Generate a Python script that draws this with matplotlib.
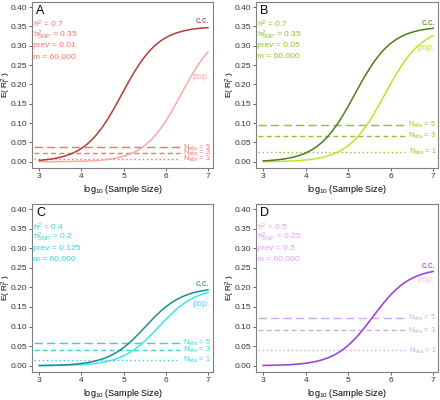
#!/usr/bin/env python3

import matplotlib
matplotlib.use("Agg")
from matplotlib import pyplot as plt

plt.rcParams["font.family"] = ["Liberation Sans", "DejaVu Sans"]
plt.rcParams["mathtext.fontset"] = "custom"
plt.rcParams["mathtext.rm"] = "Liberation Sans"
plt.rcParams["mathtext.it"] = "Liberation Sans"

# log10 sample size grid shared by all curves
log_n = [3.0, 3.125, 3.25, 3.375, 3.5, 3.625, 3.75, 3.875,
         4.0, 4.125, 4.25, 4.375, 4.5, 4.625, 4.75, 4.875,
         5.0, 5.125, 5.25, 5.375, 5.5, 5.625, 5.75, 5.875,
         6.0, 6.125, 6.25, 6.375, 6.5, 6.625, 6.75, 6.875, 7.0]

cc_a = [0.0038, 0.0050, 0.0067, 0.0089, 0.0117, 0.0155, 0.0203, 0.0266,
        0.0346, 0.0447, 0.0571, 0.0722, 0.0901, 0.1107, 0.1335, 0.1579,
        0.1830, 0.2078, 0.2314, 0.2528, 0.2716, 0.2878, 0.3012, 0.3121,
        0.3207, 0.3276, 0.3329, 0.3370, 0.3402, 0.3426, 0.3444, 0.3458, 0.3468]
pop_a = [0.0002, 0.0002, 0.0003, 0.0004, 0.0005, 0.0006, 0.0008, 0.0011,
         0.0015, 0.0020, 0.0026, 0.0035, 0.0047, 0.0062, 0.0083, 0.0109,
         0.0144, 0.0190, 0.0248, 0.0324, 0.0418, 0.0537, 0.0681, 0.0853,
         0.1051, 0.1275, 0.1515, 0.1766, 0.2016, 0.2255, 0.2475, 0.2671, 0.2838]

cc_b = [0.0024, 0.0032, 0.0043, 0.0057, 0.0075, 0.0100, 0.0132, 0.0174,
        0.0228, 0.0298, 0.0386, 0.0496, 0.0632, 0.0795, 0.0985, 0.1201,
        0.1437, 0.1686, 0.1937, 0.2180, 0.2407, 0.2611, 0.2788, 0.2938,
        0.3061, 0.3160, 0.3239, 0.3300, 0.3348, 0.3385, 0.3413, 0.3434, 0.3450]
pop_b = [0.0005, 0.0006, 0.0008, 0.0011, 0.0015, 0.0020, 0.0027, 0.0035,
         0.0047, 0.0062, 0.0083, 0.0109, 0.0144, 0.0190, 0.0248, 0.0324,
         0.0419, 0.0537, 0.0681, 0.0853, 0.1052, 0.1275, 0.1516, 0.1766,
         0.2016, 0.2255, 0.2475, 0.2671, 0.2839, 0.2980, 0.3095, 0.3187, 0.3260]

cc_c = [0.0006, 0.0008, 0.0011, 0.0014, 0.0019, 0.0025, 0.0033, 0.0044,
        0.0059, 0.0077, 0.0102, 0.0134, 0.0174, 0.0226, 0.0290, 0.0369,
        0.0464, 0.0574, 0.0699, 0.0835, 0.0977, 0.1120, 0.1259, 0.1387,
        0.1502, 0.1602, 0.1686, 0.1755, 0.1810, 0.1854, 0.1889, 0.1915, 0.1936]
pop_c = [0.0003, 0.0004, 0.0005, 0.0007, 0.0009, 0.0012, 0.0016, 0.0021,
         0.0028, 0.0038, 0.0050, 0.0066, 0.0087, 0.0115, 0.0150, 0.0196,
         0.0253, 0.0323, 0.0409, 0.0511, 0.0627, 0.0757, 0.0897, 0.1040,
         0.1182, 0.1317, 0.1440, 0.1548, 0.1641, 0.1718, 0.1781, 0.1831, 0.1871]

cc_d = [0.0007, 0.0009, 0.0012, 0.0016, 0.0021, 0.0027, 0.0036, 0.0048,
        0.0064, 0.0085, 0.0112, 0.0147, 0.0192, 0.0250, 0.0322, 0.0412,
        0.0521, 0.0649, 0.0797, 0.0961, 0.1135, 0.1315, 0.1491, 0.1659,
        0.1811, 0.1945, 0.2060, 0.2155, 0.2232, 0.2293, 0.2342, 0.2379, 0.2408]
pop_d = cc_d

# sibling-based expected R2 for N_sibs = 5, 3, 1
sibs_a = [0.037, 0.023, 0.0077]
sibs_b = [0.096, 0.067, 0.026]
sibs_c = [0.058, 0.04, 0.015]
sibs_d = [0.122, 0.09, 0.039]
sibs_n = [5, 3, 1]

params_a = ["0.7", "0.35", "0.01", "60,000"]
params_b = ["0.7", "0.35", "0.05", "60.000"]
params_c = ["0.4", "0.2", "0.125", "60,000"]
params_d = ["0.5", "0.25", "0.5", "60,000"]

panels = [
    dict(tag="A", cc=cc_a, pop=pop_a, sibs=sibs_a, params=params_a,
         c_cc="#b83a34", c_pop="#f8aaa6", c_txt="#f4736c",
         cc_lab=0.365, pop_lab=0.22),
    dict(tag="B", cc=cc_b, pop=pop_b, sibs=sibs_b, params=params_b,
         c_cc="#4f7d1c", c_pop="#b9e62a", c_txt="#93c02c",
         cc_lab=0.36, pop_lab=0.295),
    dict(tag="C", cc=cc_c, pop=pop_c, sibs=sibs_c, params=params_c,
         c_cc="#1a8f95", c_pop="#36e8ee", c_txt="#3ad0d6",
         cc_lab=0.21, pop_lab=0.16),
    dict(tag="D", cc=cc_d, pop=pop_d, sibs=sibs_d, params=params_d,
         c_cc="#9a45d8", c_pop="#f6c0f4", c_txt="#d9a2f2",
         cc_lab=0.256, pop_lab=0.22),
]

positions = [
    [0.073, 0.580, 0.411, 0.415],
    [0.582, 0.580, 0.414, 0.415],
    [0.073, 0.070, 0.411, 0.420],
    [0.582, 0.070, 0.414, 0.420],
]

dash_styles = [(0, (6, 3)), (0, (3.5, 2.5)), (0, (1, 2))]


def draw_panel(ax, p):
    for val, n, ls in zip(p["sibs"], sibs_n, dash_styles):
        ax.plot([2.88, 6.33], [val, val], color=p["c_txt"], lw=1.0, ls=ls)
        ax.text(7.07, val, r"N$_{\mathrm{sibs}}$ = %d" % n, color=p["c_txt"],
                fontsize=5, ha="right", va="center")

    ax.plot(log_n, p["pop"], color=p["c_pop"], lw=1.1)
    ax.plot(log_n, p["cc"], color=p["c_cc"], lw=1.1)

    ax.text(7.05, p["cc_lab"], "c.c.", color=p["c_cc"], fontsize=6.5,
            ha="right", va="center")
    ax.text(7.05, p["pop_lab"], "pop.", color=p["c_pop"], fontsize=6.5,
            ha="right", va="center")

    h2, h2snp, prev, m = p["params"]
    lines = [r"h$^2$ = " + h2,
             r"h$^{2}_{\mathrm{SNP}}$ = " + h2snp,
             "prev = " + prev,
             "m = " + m]
    for i, s in enumerate(lines):
        ax.text(2.86, 0.354 - 0.027 * i, s, color=p["c_txt"], fontsize=6,
                ha="left", va="center")
    ax.text(2.93, 0.391, p["tag"], fontsize=9, ha="left", va="center")

    ax.set_xlim(2.83, 7.12)
    ax.set_ylim(-0.016, 0.413)
    ax.set_xticks([3, 4, 5, 6, 7])
    ax.set_yticks([0.0, 0.05, 0.1, 0.15, 0.2, 0.25, 0.3, 0.35, 0.4])
    ax.set_yticklabels(["%.2f" % v for v in ax.get_yticks()])
    ax.tick_params(labelsize=6, colors="#4d4d4d", length=2.5, width=0.6,
                   labelcolor="#333333", pad=1.2)
    for sp in ax.spines.values():
        sp.set_color("#7f7f7f")
        sp.set_linewidth(0.8)
    ax.set_xlabel(r"log$_{10}$ (Sample Size)", fontsize=6.5)
    ax.set_ylabel(r"E( R$_{l}^{2}$ )", fontsize=6)
    ax.xaxis.set_label_coords(0.5, -0.09)
    ax.yaxis.set_label_coords(-0.107, 0.5)


def main():
    fig = plt.figure(figsize=(4.4, 4.0), dpi=100)
    for pos, p in zip(positions, panels):
        ax = fig.add_axes(pos)
        draw_panel(ax, p)
    fig.savefig("out.png", dpi=100)


if __name__ == "__main__":
    main()
